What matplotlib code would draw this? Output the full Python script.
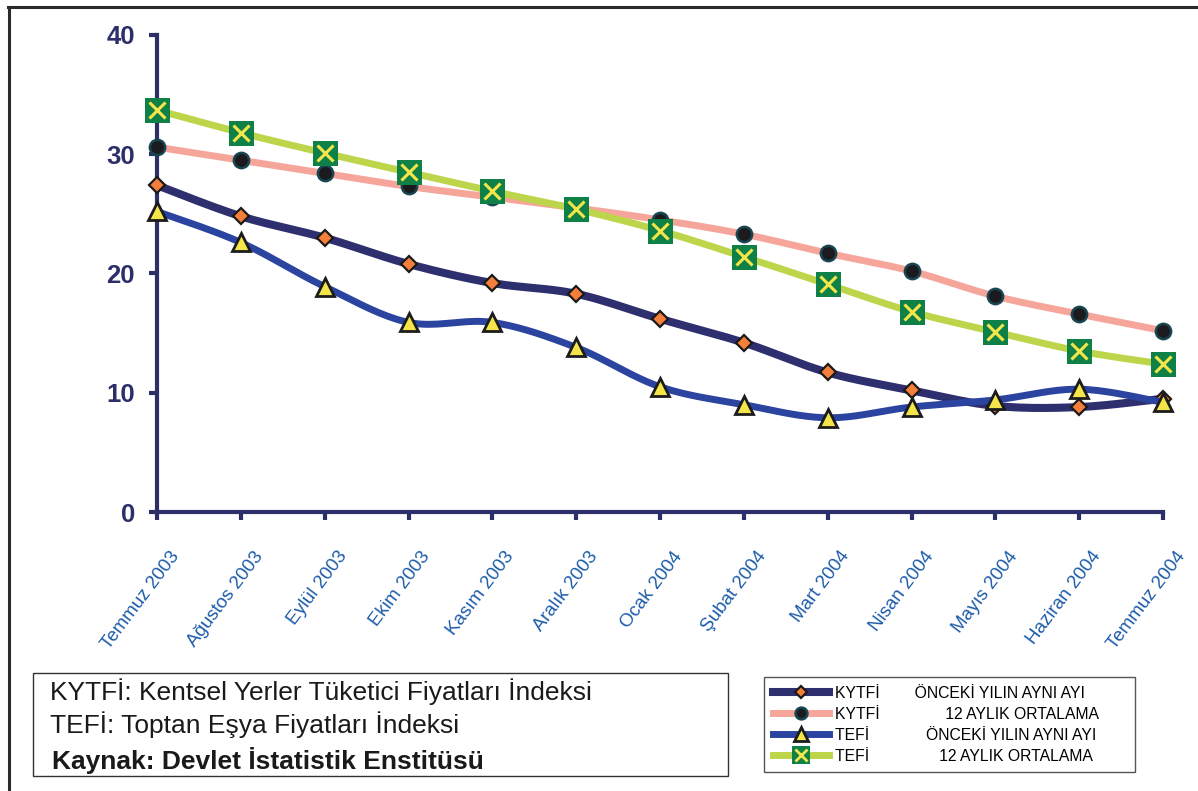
import numpy as np
import matplotlib
matplotlib.use("Agg")
import matplotlib.pyplot as plt
import matplotlib.transforms as mtransforms
from matplotlib.lines import Line2D
from matplotlib.patches import Rectangle

plt.rcParams['font.family'] = ['Liberation Sans', 'DejaVu Sans']

aylar = ['Temmuz 2003', 'Ağustos 2003', 'Eylül 2003', 'Ekim 2003', 'Kasım 2003',
         'Aralık 2003', 'Ocak 2004', 'Şubat 2004', 'Mart 2004', 'Nisan 2004',
         'Mayıs 2004', 'Haziran 2004', 'Temmuz 2004']

kytfi_yillik = [27.4, 24.8, 23.0, 20.8, 19.2, 18.3, 16.2, 14.2, 11.7, 10.2, 8.9, 8.8, 9.5]
kytfi_ortalama = [30.6, 29.5, 28.4, 27.3, 26.4, 25.5, 24.5, 23.3, 21.7, 20.2, 18.1, 16.6, 15.2]
tefi_yillik = [25.2, 22.6, 18.9, 15.9, 15.9, 13.8, 10.5, 9.0, 7.9, 8.8, 9.4, 10.3, 9.2]
tefi_ortalama = [33.7, 31.8, 30.1, 28.5, 26.9, 25.4, 23.6, 21.4, 19.1, 16.8, 15.1, 13.5, 12.4]

yticks = [0, 10, 20, 30, 40]

lacivert = '#2d2f6b'


def yumusat(degerler, adim=20):
    # excel'in "duzgun cizgi" secenegi gibi bezier egrisi
    y = np.asarray(degerler, dtype=float)
    x = np.arange(len(y), dtype=float)
    p = np.column_stack([x, y])
    pp = np.vstack([p[0], p, p[-1]])
    t = np.linspace(0, 1, adim, endpoint=False)[:, None]
    parcalar = []
    for i in range(len(p) - 1):
        p0, p1, p2, p3 = pp[i], pp[i + 1], pp[i + 2], pp[i + 3]
        c1 = p1 + (p2 - p0) / 6
        c2 = p2 - (p3 - p1) / 6
        b = (1 - t) ** 3 * p1 + 3 * (1 - t) ** 2 * t * c1 + 3 * (1 - t) * t ** 2 * c2 + t ** 3 * p2
        parcalar.append(b)
    parcalar.append(p[-1:])
    s = np.vstack(parcalar)
    return s[:, 0], s[:, 1]


fig = plt.figure(figsize=(11.98, 7.91), dpi=100)
ax = fig.add_axes([157 / 1198, 1 - 512 / 791, 1006 / 1198, 477 / 791])

x = np.arange(len(aylar))

cizgiler = [dict(color='#2e2f6e', lw=5.8),
            dict(color='#f6a59a', lw=5.0),
            dict(color='#2b44a0', lw=5.0),
            dict(color='#bcd54a', lw=5.0)]
isaretler = [dict(marker='D', mfc='#f47f3a', mec='#1a1a1a', mew=1.6),
             dict(marker='o', mfc='#1b1b1f', mec='#174550', mew=1.8),
             dict(marker='^', mfc='#f4e54a', mec='#1c1c1c', mew=2.0),
             dict(marker='s', mfc='#0f8146', mec='#0f8146', mew=0)]
boyut = [8.5, 11, 13, 18]
lejant_boyut = [6.5, 8.5, 10, 12.5]

z = 3
for degerler, cizgi, isaret, ms in zip([kytfi_yillik, kytfi_ortalama, tefi_yillik, tefi_ortalama],
                                       cizgiler, isaretler, boyut):
    xs, ys = yumusat(degerler)
    ax.plot(xs, ys, zorder=z, clip_on=False, solid_joinstyle='round', **cizgi)
    ax.plot(x, degerler, ls='none', ms=ms, zorder=z + 0.5, clip_on=False, **isaret)
    z += 1
ax.plot(x, tefi_ortalama, ls='none', marker='x', ms=11.5, mec='#f4e54a', mew=2.2,
        zorder=z, clip_on=False)

ax.set_xlim(0, len(aylar) - 1)
ax.set_ylim(0, 40)
for s in ['top', 'right']:
    ax.spines[s].set_visible(False)
for s in ['left', 'bottom']:
    ax.spines[s].set_color(lacivert)
    ax.spines[s].set_linewidth(3)

ax.set_yticks(yticks)
ax.set_yticklabels([str(v) for v in yticks], fontsize=18.5, fontweight='bold', color=lacivert)
ax.tick_params(axis='y', direction='out', length=6, width=3, color=lacivert, pad=10)

ax.set_xticks(x)
ax.set_xticklabels(aylar, rotation=53, ha='right', va='top', rotation_mode='anchor',
                   fontsize=13.5, color='#1d5ca9')
ax.tick_params(axis='x', direction='out', length=6, width=3, color=lacivert, pad=20)
kaydir = mtransforms.ScaledTranslation(12 / 100, 0, fig.dpi_scale_trans)
for etiket in ax.get_xticklabels():
    etiket.set_transform(etiket.get_transform() + kaydir)

# dis cerceve
fig.add_artist(Line2D([8 / 1198, 1], [1 - 7 / 791] * 2, transform=fig.transFigure,
                      color='#2b2b2b', lw=2.2))
fig.add_artist(Line2D([9 / 1198] * 2, [0, 1 - 7 / 791], transform=fig.transFigure,
                      color='#2b2b2b', lw=2.2))

# aciklama kutusu
fig.add_artist(Rectangle((33 / 1198, 1 - 776 / 791), 695 / 1198, 103 / 791,
                         transform=fig.transFigure, fill=False, ec='#333333', lw=1))
fig.text(50 / 1198, 1 - 700 / 791, 'KYTFİ: Kentsel Yerler Tüketici Fiyatları İndeksi',
         fontsize=19, va='baseline', color='#1a1a1a')
fig.text(50 / 1198, 1 - 733 / 791, 'TEFİ: Toptan Eşya Fiyatları İndeksi',
         fontsize=19, va='baseline', color='#1a1a1a')
fig.text(52 / 1198, 1 - 769 / 791, 'Kaynak: Devlet İstatistik Enstitüsü',
         fontsize=19, fontweight='bold', va='baseline', color='#1a1a1a')

# lejant
tutamaclar = [Line2D([], [], ms=ms, **c, **i)
              for c, i, ms in zip(cizgiler, isaretler, lejant_boyut)]
tutamaclar[3] = (tutamaclar[3],
                 Line2D([], [], ls='none', marker='x', ms=8, mec='#f4e54a', mew=2))
etiketler = ['KYTFİ' + ' ' * 8 + 'ÖNCEKİ YILIN AYNI AYI',
             'KYTFİ' + ' ' * 15 + '12 AYLIK ORTALAMA',
             'TEFİ' + ' ' * 13 + 'ÖNCEKİ YILIN AYNI AYI',
             'TEFİ' + ' ' * 16 + '12 AYLIK ORTALAMA']
leg = fig.legend(tutamaclar, etiketler, loc='upper left',
                 bbox_to_anchor=(764 / 1198, 1 - 677 / 791, 371 / 1198, 0), mode='expand',
                 fontsize=11.3, handlelength=3.6, handletextpad=0.35, labelspacing=0.38,
                 borderpad=0.55, borderaxespad=0, fancybox=False, framealpha=1,
                 edgecolor='#555555')
leg.get_frame().set_linewidth(1)

fig.savefig('out.png', dpi=100)
